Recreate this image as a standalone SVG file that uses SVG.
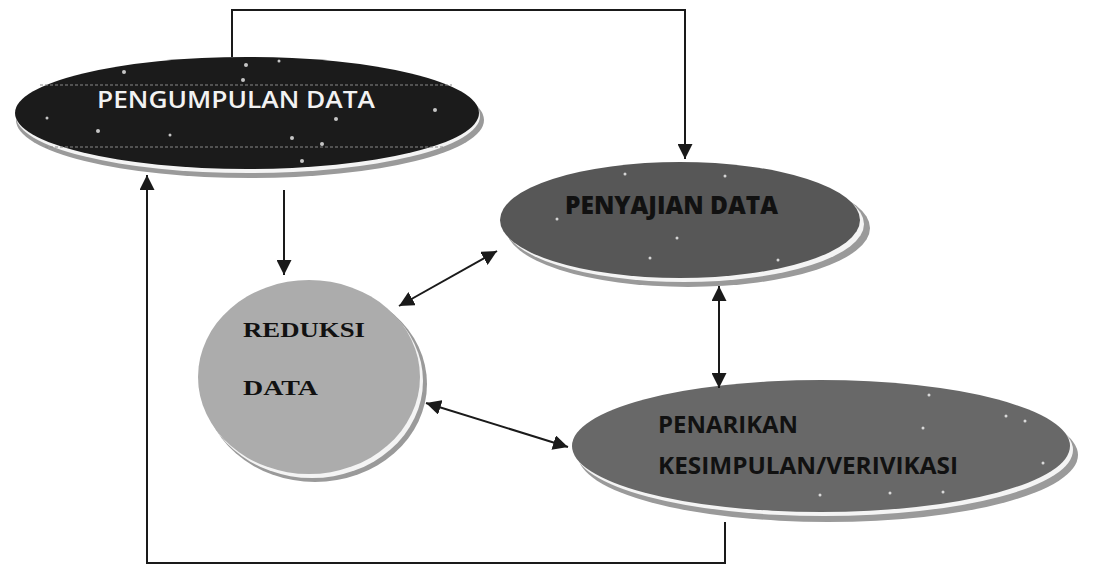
<svg xmlns="http://www.w3.org/2000/svg" width="1097" height="567" viewBox="0 0 1097 567">
<defs>
<style>
.con{fill:none;stroke:#1a1a1a;stroke-width:2}
.rimo{fill:#9a9a9a}
.rimi{fill:#f4f4f4}
.dot{fill:#ffffff;opacity:0.75}
.sans{font-family:"Open Sans","Liberation Sans",sans-serif;font-weight:bold}
.serif{font-family:"Liberation Serif","DejaVu Serif",serif;font-weight:bold}
</style>
<marker id="ahb" viewBox="0 0 10 10" refX="10" refY="5" markerWidth="15" markerHeight="15" orient="auto-start-reverse" markerUnits="userSpaceOnUse">
<path d="M0,0 L10,5 L0,10 z" fill="#1a1a1a"/>
</marker>
</defs>
<rect width="1097" height="567" fill="#ffffff"/>

<g id="node-pengumpulan">
<ellipse class="rimo" cx="250" cy="120" rx="234" ry="58"/>
<ellipse class="rimi" cx="248" cy="116" rx="232" ry="57"/>
<ellipse cx="247" cy="113" rx="232" ry="56" fill="#1b1b1b"/>
<line x1="40" y1="85" x2="452" y2="85" stroke="#8a8a8a" stroke-width="1" stroke-dasharray="3,2"/>
<line x1="45" y1="147" x2="445" y2="147" stroke="#8a8a8a" stroke-width="1" stroke-dasharray="3,2"/>
<circle class="dot" cx="124" cy="72" r="2"/><circle class="dot" cx="246" cy="65" r="2"/><circle class="dot" cx="279" cy="61" r="1.5"/><circle class="dot" cx="243" cy="80" r="2"/><circle class="dot" cx="98" cy="131" r="2"/><circle class="dot" cx="336" cy="119" r="2"/><circle class="dot" cx="435" cy="110" r="2"/><circle class="dot" cx="292" cy="138" r="2"/><circle class="dot" cx="322" cy="144" r="2"/><circle class="dot" cx="302" cy="161" r="2"/><circle class="dot" cx="170" cy="135" r="1.5"/><circle class="dot" cx="47" cy="118" r="1.5"/>
<text class="sans" x="97" y="108" font-size="24" fill="#f2f2f2" textLength="278" lengthAdjust="spacingAndGlyphs" style="font-weight:600">PENGUMPULAN DATA</text>
</g>

<g id="node-penyajian">
<ellipse class="rimo" cx="688" cy="228" rx="182" ry="59"/>
<ellipse class="rimi" cx="684" cy="224" rx="180" ry="58"/>
<ellipse cx="680" cy="220" rx="180" ry="58" fill="#575757"/>
<circle class="dot" cx="625" cy="174" r="1.5"/><circle class="dot" cx="725" cy="176" r="1.5"/><circle class="dot" cx="557" cy="219" r="1.5"/><circle class="dot" cx="677" cy="238" r="1.5"/><circle class="dot" cx="778" cy="260" r="1.5"/><circle class="dot" cx="650" cy="258" r="1.5"/>
<text class="sans" x="565" y="214" font-size="25" fill="#111111" textLength="213" lengthAdjust="spacingAndGlyphs" style="font-weight:800">PENYAJIAN DATA</text>
</g>

<g id="node-reduksi">
<ellipse class="rimo" cx="315" cy="384" rx="112" ry="98"/>
<ellipse class="rimi" cx="312" cy="381" rx="111" ry="97"/>
<ellipse cx="309" cy="377" rx="111" ry="97" fill="#acacac"/>
<text class="serif" x="243" y="337" font-size="22" fill="#111111" textLength="122" lengthAdjust="spacingAndGlyphs">REDUKSI</text>
<text class="serif" x="243" y="395" font-size="22" fill="#111111" textLength="75" lengthAdjust="spacingAndGlyphs">DATA</text>
</g>

<g id="node-penarikan">
<ellipse class="rimo" cx="828" cy="455" rx="250" ry="67"/>
<ellipse class="rimi" cx="824" cy="450" rx="249" ry="66"/>
<ellipse cx="821" cy="446" rx="249" ry="66" fill="#686868"/>
<circle class="dot" cx="929" cy="395" r="1.5"/><circle class="dot" cx="1006" cy="416" r="1.5"/><circle class="dot" cx="1025" cy="421" r="1.5"/><circle class="dot" cx="923" cy="428" r="1.5"/><circle class="dot" cx="1043" cy="463" r="1.5"/><circle class="dot" cx="890" cy="493" r="1.5"/><circle class="dot" cx="943" cy="492" r="1.5"/><circle class="dot" cx="820" cy="495" r="1.5"/><circle class="dot" cx="690" cy="426" r="1.5"/>
<text class="sans" x="658" y="433" font-size="24" fill="#111111" textLength="140" lengthAdjust="spacingAndGlyphs">PENARIKAN</text>
<text class="sans" x="658" y="474" font-size="24" fill="#111111" textLength="300" lengthAdjust="spacingAndGlyphs">KESIMPULAN/VERIVIKASI</text>
</g>

<g id="connectors">
<polyline class="con" points="232,57 232,10 685,10 685,159" marker-end="url(#ahb)"/>
<line class="con" x1="284" y1="190" x2="284" y2="275" marker-end="url(#ahb)"/>
<line class="con" x1="497" y1="251" x2="399" y2="306" marker-start="url(#ahb)" marker-end="url(#ahb)"/>
<line class="con" x1="719" y1="286" x2="719" y2="388" marker-start="url(#ahb)" marker-end="url(#ahb)"/>
<line class="con" x1="426" y1="403" x2="568" y2="447" marker-start="url(#ahb)" marker-end="url(#ahb)"/>
<polyline class="con" points="725,522 725,563 147,563 147,175" marker-end="url(#ahb)"/>
</g>
</svg>
